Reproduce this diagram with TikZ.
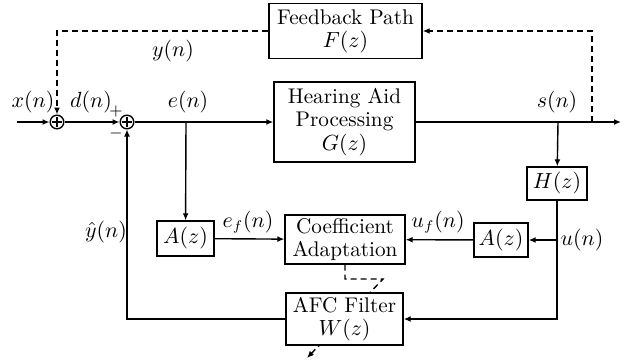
\documentclass[tikz,border=0pt]{standalone}
\usetikzlibrary{arrows.meta,calc}
\begin{document}
\begin{tikzpicture}[x=0.5pt,y=-0.5pt,
  every node/.style={font=\fontsize{10.6}{11.6}\selectfont},
  box/.style={draw,line width=0.7pt,fill=white,inner sep=0pt,align=center},
  sumnode/.style={draw,circle,line width=0.7pt,minimum size=6.8pt,inner sep=0pt,
    path picture={\draw[line width=0.55pt]
      ([yshift=2.3pt]path picture bounding box.center) -- ([yshift=-2.3pt]path picture bounding box.center)
      ([xshift=-2.3pt]path picture bounding box.center) -- ([xshift=2.3pt]path picture bounding box.center);}},
  sig/.style={line width=0.7pt,-{Latex[length=3.5pt,width=3pt]}},
  dsig/.style={sig,dash pattern=on 3pt off 2pt},
  lbl/.style={inner sep=0pt}
]
\useasboundingbox (0,0) rectangle (624,360);

% blocks
\node[box,minimum width=76.5pt,minimum height=27.5pt] (fb) at (345.5,31) {Feedback Path\\$F(z)$};
\node[box,minimum width=70.5pt,minimum height=40pt] (hap) at (344.5,122) {Hearing Aid\\Processing\\$G(z)$};
\node[box,minimum width=30pt,minimum height=16.5pt] (H) at (557,183.5) {$H(z)$};
\node[box,minimum width=28.5pt,minimum height=17.5pt] (Al) at (185.5,238.5) {$A(z)$};
\node[box,minimum width=27pt,minimum height=17pt] (Ar) at (501,240) {$A(z)$};
\node[box,minimum width=60pt,minimum height=24.5pt] (coef) at (345,239.5) {Coefficient\\Adaptation};

% summing junctions
\node[sumnode] (s1) at (57,122) {};
\node[sumnode] (s2) at (127,122) {};

% coordinates
\coordinate (in) at (17,122);
\coordinate (out) at (621,122);
\coordinate (eb) at (186,122);
\coordinate (hb) at (558,122);
\coordinate (fbk) at (592,122);
\coordinate (ub) at (558,240);
\coordinate (d1) at (345,279);
\coordinate (d2) at (383,279);
\coordinate (d3) at (307,358);

% adaptation dashed arrow (under AFC box)
\draw[dsig] (coef.south) -- (d1) -- (d2) -- (d3);

\node[box,minimum width=58.5pt,minimum height=26pt] (afc) at (344.5,319) {AFC Filter\\$W(z)$};

% signal lines
\draw[sig] (in) -- (s1);
\draw[sig] (s1) -- (s2);
\draw[sig] (s2) -- (hap);
\draw[sig] (hap) -- (out);
\draw[sig] (eb) -- (Al);
\draw[sig] (Al) -- (coef);
\draw[sig] (hb) -- (H);
\draw[sig] (H.south) -- (H.south |- afc.east) -- (afc.east);
\draw[sig] (ub) -- (Ar.east);
\draw[sig] (Ar) -- (coef);
\draw[sig] (afc.west) -| (s2.south);

% feedback path (dashed)
\draw[dsig] (fbk) |- (fb.east);
\draw[dsig] (fb.west) -| (s1.north);

% labels
\node[lbl] (lx) at (33,102) {$x(n)$};
\node[lbl] (ld) at (91,102) {$d(n)$};
\node[lbl,font=\fontsize{8}{9}\selectfont] (lp) at (116,111) {$+$};
\node[lbl,font=\fontsize{8}{9}\selectfont] (lm) at (116,133) {$-$};
\node[lbl] (ly) at (173,51) {$y(n)$};
\node[lbl] (le) at (188,102) {$e(n)$};
\node[lbl] (ls) at (557,102) {$s(n)$};
\node[lbl] (lef) at (248,222) {$e_f(n)$};
\node[lbl] (luf) at (438,222) {$u_f(n)$};
\node[lbl] (lu) at (582,240) {$u(n)$};
\node[lbl] (lyh) at (106,232) {$\hat{y}(n)$};
\end{tikzpicture}
\end{document}
